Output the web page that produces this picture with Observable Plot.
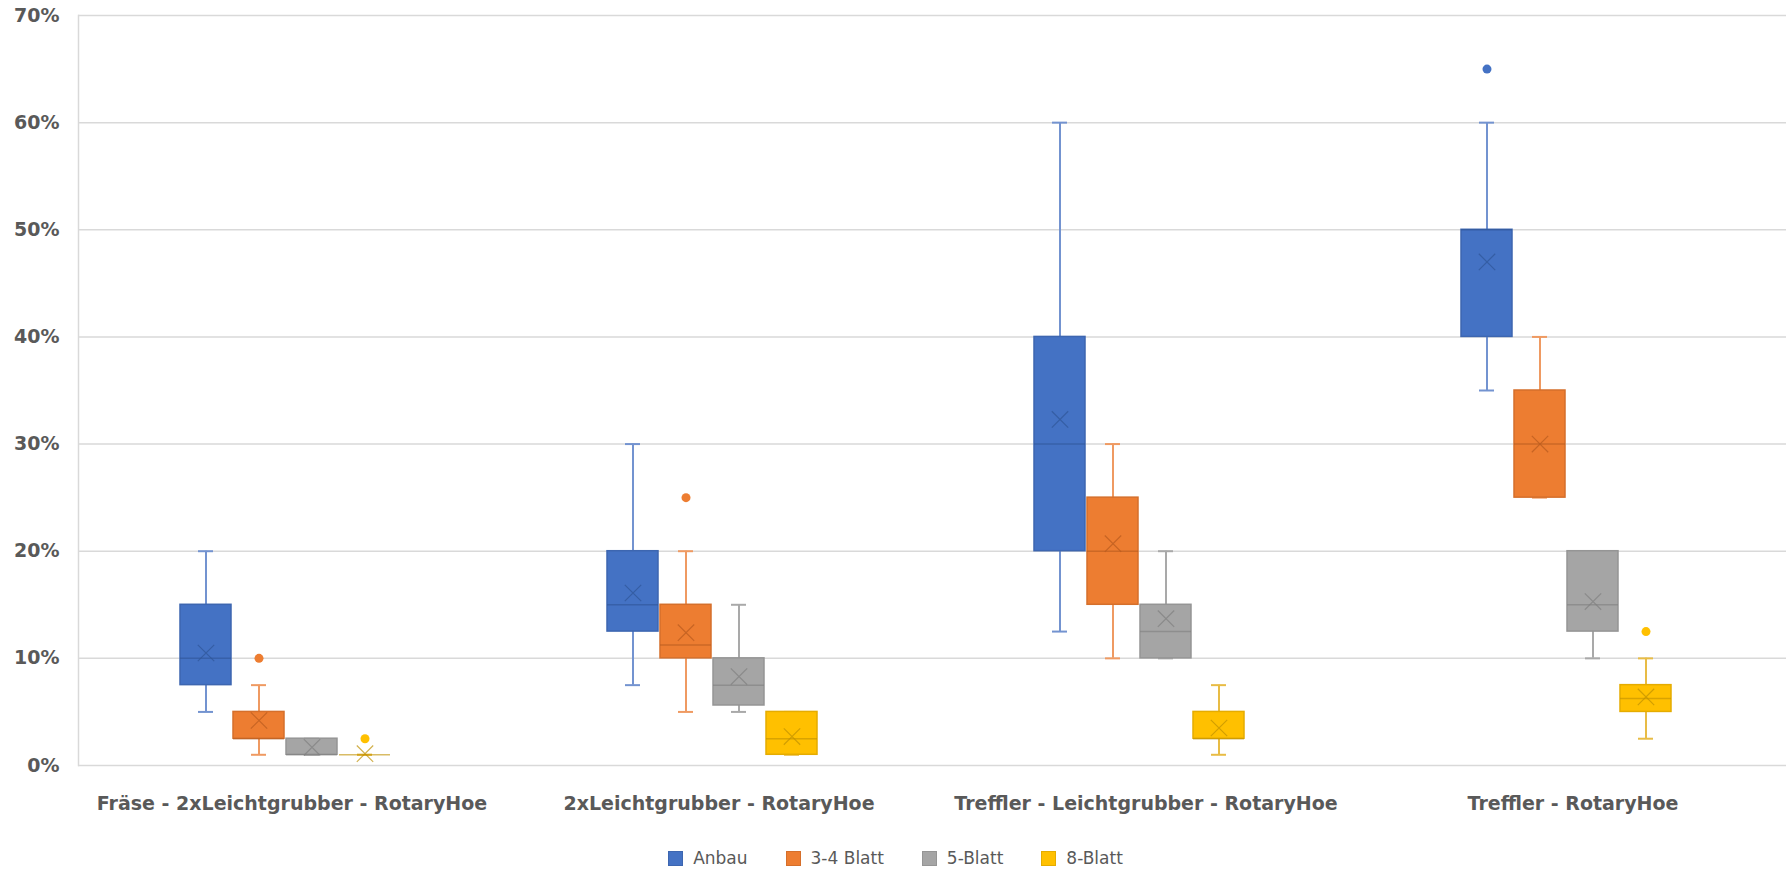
<!DOCTYPE html>
<html><head><meta charset="utf-8">
<script src="https://cdn.jsdelivr.net/npm/d3@7"></script>
<script src="https://cdn.jsdelivr.net/npm/@observablehq/plot@0.6"></script>
<style>
body{margin:0;background:#fff;font-family:"DejaVu Sans",sans-serif;}
#legend{display:flex;justify-content:center;align-items:center;gap:38px;font-size:17px;color:#595959;margin-top:18px;line-height:20px;padding-left:0px;}
#legend .item{display:flex;align-items:center;gap:10px;}
#legend .sw{width:15px;height:15px;display:inline-block;box-sizing:border-box;}
</style></head><body><div id="chart"></div><div id="legend"></div>
<script>
const categories = ["Fräse - 2xLeichtgrubber - RotaryHoe", "2xLeichtgrubber - RotaryHoe", "Treffler - Leichtgrubber - RotaryHoe", "Treffler - RotaryHoe"];
const series = ["Anbau", "3-4 Blatt", "5-Blatt", "8-Blatt"];
const colors = ["#4472C4", "#ED7D31", "#A5A5A5", "#FFC000"];
const edgeColors = ["#3D66B0", "#D56F2B", "#959595", "#E5AC00"];
const whiskerColors = ["#7393D0", "#EF9A62", "#A9A9A9", "#E8BC45"];
const markColors = ["#2F5597", "#B65A1E", "#7F7F7F", "#BF9000"];
const yTicks = [0, 10, 20, 30, 40, 50, 60, 70];
// rows: categories, columns: series (values in %)
const whiskerLow  = [[5, 1, 1, 1], [7.5, 5, 5, 1], [12.5, 10, 10, 1], [35, 25, 10, 2.5]];
const q1          = [[7.5, 2.5, 1, 1], [12.5, 10, 5.6, 1], [20, 15, 10, 2.5], [40, 25, 12.5, 5]];
const median      = [[10, 2.5, 1, 1], [15, 11.25, 7.5, 2.5], [30, 20, 12.5, 2.5], [50, 30, 15, 6.25]];
const q3          = [[15, 5, 2.5, 1], [20, 15, 10, 5], [40, 25, 15, 5], [50, 35, 20, 7.5]];
const whiskerHigh = [[20, 7.5, 2.5, 1], [30, 20, 15, 5], [60, 30, 20, 7.5], [60, 40, 20, 10]];
const mean        = [[10.5, 4.2, 1.7, 1.1], [16.1, 12.4, 8.3, 2.7], [32.3, 20.7, 13.7, 3.5], [47, 30, 15.3, 6.4]];
const outlierCategory = [0, 0, 1, 3, 3];
const outlierSeries   = [1, 3, 1, 0, 3];
const outlierValue    = [10, 2.5, 25, 65, 12.5];

const rows = categories.flatMap((c, i) => series.map((s, j) => ({
  category: c, series: s, si: j,
  lo: whiskerLow[i][j], q1: q1[i][j], median: median[i][j], q3: q3[i][j], hi: whiskerHigh[i][j], mean: mean[i][j]
})));
const outliers = outlierValue.map((v, k) => ({category: categories[outlierCategory[k]], series: series[outlierSeries[k]], si: outlierSeries[k], value: v}));

const marks = [
  Plot.ruleY(yTicks, {stroke: "#d9d9d9", strokeWidth: 1.5}),
  Plot.frame({anchor: "left", facet: "super", stroke: "#d9d9d9", strokeWidth: 1.5})
];
series.forEach((s, j) => {
  const d = rows.filter(r => r.si === j);
  const o = outliers.filter(r => r.si === j);
  marks.push(
    Plot.ruleX(d, {x: "series", fx: "category", y1: "lo", y2: "hi", stroke: whiskerColors[j], strokeWidth: 2}),
    Plot.tickY(d, {x: "series", fx: "category", y: "hi", stroke: whiskerColors[j], strokeWidth: 2, insetLeft: 18, insetRight: 18}),
    Plot.tickY(d, {x: "series", fx: "category", y: "lo", stroke: whiskerColors[j], strokeWidth: 2, insetLeft: 18, insetRight: 18}),
    Plot.barY(d, {x: "series", fx: "category", y1: "q1", y2: "q3", fill: colors[j], stroke: edgeColors[j], strokeWidth: 1.5}),
    Plot.tickY(d, {x: "series", fx: "category", y: "median", stroke: markColors[j], strokeOpacity: 0.6, strokeWidth: 1.5}),
    Plot.dot(d, {x: "series", fx: "category", y: "mean", symbol: "times", r: 7.5, stroke: markColors[j], strokeOpacity: 0.7, strokeWidth: 1.2}),
    Plot.dot(o, {x: "series", fx: "category", y: "value", r: 4.5, fill: colors[j], stroke: "none"})
  );
});

const chart = Plot.plot({
  width: 1791, height: 830,
  marginTop: 15, marginLeft: 77, marginRight: 5, marginBottom: 65,
  style: {fontFamily: "'DejaVu Sans', sans-serif", fontSize: "19px", fontWeight: 700, color: "#595959", background: "#fff", overflow: "visible"},
  fx: {domain: categories, padding: 0, label: null, tickSize: 0, tickPadding: 31, axis: "bottom"},
  x: {domain: series, paddingInner: 0.04, paddingOuter: 1.98, align: 0.47, axis: null},
  y: {domain: [0, 70], ticks: yTicks, tickFormat: d => d + "%", tickSize: 0, tickPadding: 19, label: null},
  marks
});
document.getElementById("chart").appendChild(chart);

const lg = document.getElementById("legend");
series.forEach((s, j) => {
  const it = document.createElement("span"); it.className = "item";
  const sw = document.createElement("span"); sw.className = "sw";
  sw.style.background = colors[j]; sw.style.border = "1px solid " + edgeColors[j];
  const t = document.createElement("span"); t.textContent = s;
  it.appendChild(sw); it.appendChild(t); lg.appendChild(it);
});
</script></body></html>
